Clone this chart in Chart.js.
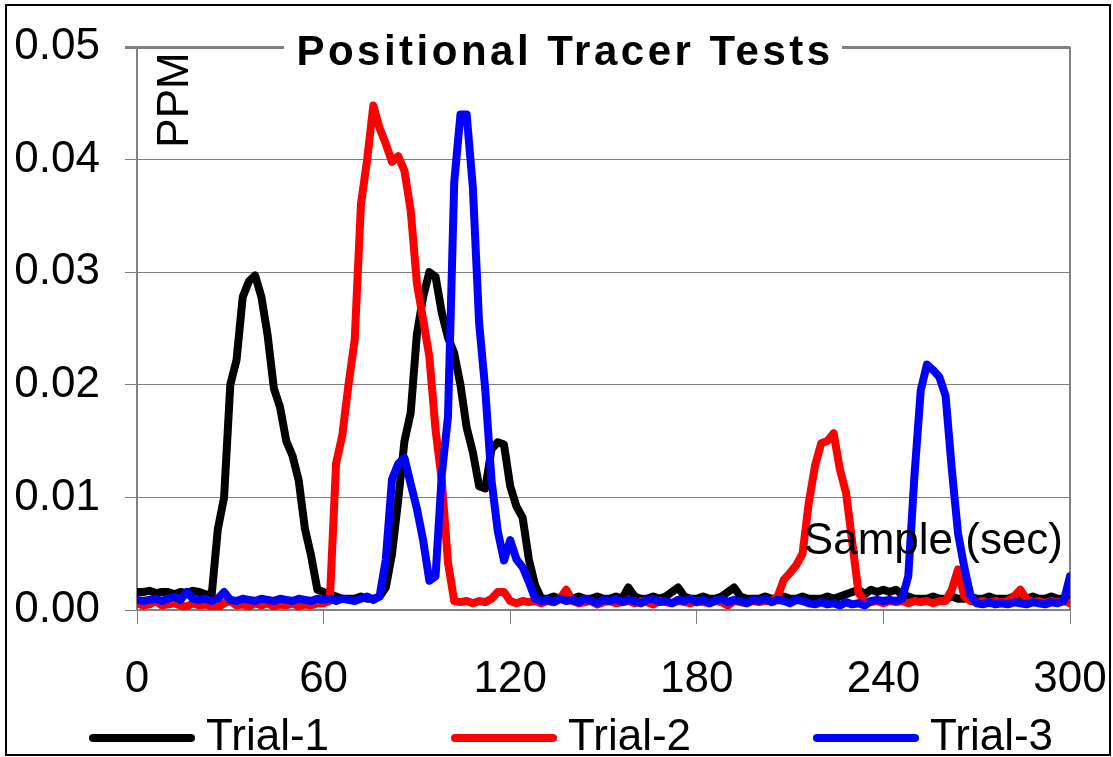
<!DOCTYPE html>
<html>
<head>
<meta charset="utf-8">
<script src="https://cdn.jsdelivr.net/npm/chart.js@4.4.1/dist/chart.umd.min.js"></script>
<style>
	body { margin: 0; background: #fff; }
	canvas { display: block; }
</style>
</head>
<body>
<canvas id="tracer-chart" width="1113" height="757"></canvas>
<script>
// sample time in seconds, one reading every 2 s
var times = [];
for (var t = 0; t <= 300; t += 2) times.push(t);

var seriesNames = ["Trial-1", "Trial-2", "Trial-3"];
var seriesColors = ["#000000", "#ff0000", "#0000ff"];
var xTicks = [0, 60, 120, 180, 240, 300];
var yTicks = [0, 0.01, 0.02, 0.03, 0.04, 0.05];

var trial1 = [
	0.0016,0.0016,0.0017,0.0015,0.0016,0.0016,0.0014,0.0016,0.0015,0.0017,
	0.0016,0.0014,0.0013,0.0072,0.0100,0.0200,0.0222,0.0278,0.0292,0.0297,
	0.0278,0.0244,0.0197,0.0180,0.0150,0.0137,0.0115,0.0072,0.0048,0.0018,
	0.0016,0.0014,0.0012,0.0010,0.0010,0.0010,0.0012,0.0010,0.0010,0.0012,
	0.0020,0.0050,0.0098,0.0150,0.0175,0.0245,0.0278,0.0300,0.0296,0.0264,
	0.0242,0.0228,0.0200,0.0162,0.0140,0.0110,0.0108,0.0143,0.0149,0.0147,
	0.0110,0.0092,0.0082,0.0045,0.0022,0.0010,0.0010,0.0012,0.0010,0.0010,
	0.0010,0.0012,0.0010,0.0010,0.0012,0.0010,0.0010,0.0012,0.0010,0.0020,
	0.0012,0.0010,0.0010,0.0012,0.0010,0.0012,0.0016,0.0020,0.0012,0.0010,
	0.0010,0.0012,0.0010,0.0010,0.0012,0.0016,0.0020,0.0012,0.0010,0.0010,
	0.0010,0.0012,0.0010,0.0010,0.0012,0.0010,0.0010,0.0012,0.0010,0.0010,
	0.0010,0.0012,0.0010,0.0012,0.0014,0.0016,0.0018,0.0014,0.0018,0.0016,
	0.0018,0.0016,0.0018,0.0014,0.0012,0.0010,0.0010,0.0010,0.0012,0.0010,
	0.0010,0.0012,0.0010,0.0010,0.0012,0.0010,0.0010,0.0012,0.0010,0.0010,
	0.0010,0.0012,0.0010,0.0010,0.0012,0.0010,0.0010,0.0012,0.0010,0.0010,
	0.0010
];
var trial2 = [
	0.0006,0.0004,0.0005,0.0008,0.0004,0.0005,0.0006,0.0004,0.0003,0.0006,
	0.0004,0.0005,0.0003,0.0002,0.0006,0.0008,0.0004,0.0005,0.0003,0.0006,
	0.0004,0.0006,0.0003,0.0005,0.0004,0.0006,0.0003,0.0005,0.0004,0.0006,
	0.0006,0.0008,0.0130,0.0155,0.0200,0.0240,0.0360,0.0400,0.0448,0.0428,
	0.0414,0.0398,0.0403,0.0390,0.0355,0.0290,0.0258,0.0225,0.0160,0.0115,
	0.0042,0.0008,0.0007,0.0008,0.0006,0.0008,0.0007,0.0010,0.0016,0.0016,
	0.0008,0.0006,0.0008,0.0007,0.0008,0.0006,0.0008,0.0007,0.0010,0.0018,
	0.0008,0.0006,0.0007,0.0008,0.0005,0.0007,0.0008,0.0006,0.0007,0.0008,
	0.0006,0.0008,0.0007,0.0005,0.0008,0.0007,0.0006,0.0008,0.0007,0.0006,
	0.0008,0.0007,0.0006,0.0008,0.0007,0.0004,0.0008,0.0007,0.0006,0.0008,
	0.0007,0.0008,0.0008,0.0012,0.0027,0.0033,0.0040,0.0050,0.0095,0.0128,
	0.0148,0.0150,0.0157,0.0125,0.0104,0.0060,0.0015,0.0008,0.0007,0.0008,
	0.0006,0.0008,0.0007,0.0008,0.0006,0.0008,0.0007,0.0008,0.0006,0.0008,
	0.0008,0.0018,0.0036,0.0012,0.0008,0.0007,0.0008,0.0006,0.0008,0.0007,
	0.0008,0.0012,0.0018,0.0010,0.0007,0.0008,0.0006,0.0008,0.0007,0.0008,
	0.0006
];
var trial3 = [
	0.0009,0.0008,0.0009,0.0010,0.0008,0.0010,0.0012,0.0009,0.0016,0.0010,
	0.0009,0.0010,0.0008,0.0010,0.0016,0.0009,0.0008,0.0010,0.0009,0.0008,
	0.0010,0.0009,0.0008,0.0010,0.0009,0.0008,0.0010,0.0009,0.0008,0.0010,
	0.0009,0.0010,0.0008,0.0010,0.0009,0.0008,0.0010,0.0012,0.0009,0.0012,
	0.0045,0.0116,0.0130,0.0135,0.0112,0.0090,0.0062,0.0026,0.0030,0.0120,
	0.0172,0.0380,0.0440,0.0440,0.0375,0.0255,0.0195,0.0115,0.0070,0.0044,
	0.0062,0.0045,0.0038,0.0025,0.0010,0.0008,0.0009,0.0007,0.0010,0.0008,
	0.0009,0.0007,0.0010,0.0008,0.0006,0.0009,0.0008,0.0010,0.0007,0.0009,
	0.0008,0.0006,0.0009,0.0010,0.0007,0.0008,0.0006,0.0009,0.0008,0.0010,
	0.0007,0.0009,0.0006,0.0008,0.0010,0.0007,0.0009,0.0008,0.0006,0.0009,
	0.0008,0.0010,0.0007,0.0009,0.0008,0.0006,0.0009,0.0008,0.0006,0.0005,
	0.0007,0.0005,0.0006,0.0004,0.0007,0.0005,0.0006,0.0004,0.0008,0.0009,
	0.0008,0.0009,0.0008,0.0010,0.0030,0.0120,0.0195,0.0218,0.0213,0.0207,
	0.0190,0.0125,0.0068,0.0038,0.0013,0.0006,0.0005,0.0007,0.0005,0.0006,
	0.0005,0.0007,0.0006,0.0005,0.0007,0.0006,0.0005,0.0007,0.0006,0.0008,
	0.0030
];

var values = [trial1, trial2, trial3];
var fontFamily = '"Liberation Sans", Arial, sans-serif';

function points(arr) {
	return times.map(function(t, i) { return {x: t, y: arr[i]}; });
}

var datasets = seriesNames.map(function(name, i) {
	return {
		label: name,
		data: points(values[i]),
		borderColor: seriesColors[i],
		backgroundColor: seriesColors[i],
		borderWidth: 8,
		pointRadius: 0,
		tension: 0,
		borderJoinStyle: "round",
		borderCapStyle: "round",
		order: 3 - i   // blue on top, black underneath
	};
});

// page furniture: frame, title, axis captions and legend
var decor = {
	id: "decor",
	beforeDraw: function(chart) {
		var ctx = chart.ctx;
		ctx.save();
		ctx.fillStyle = "#fff";
		ctx.fillRect(0, 0, chart.width, chart.height);
		ctx.restore();
	},
	beforeDatasetsDraw: function(chart) {
		var ctx = chart.ctx, a = chart.chartArea;
		ctx.save();
		ctx.strokeStyle = "#808080";
		ctx.lineWidth = 2;
		ctx.beginPath();
		ctx.moveTo(a.right, a.top);
		ctx.lineTo(a.right, a.bottom);
		ctx.stroke();
		ctx.restore();
	},
	afterDraw: function(chart) {
		var ctx = chart.ctx;
		ctx.save();

		// outer frame
		ctx.strokeStyle = "#000";
		ctx.lineWidth = 2;
		ctx.strokeRect(6, 5, chart.width - 9, chart.height - 7);

		// title sits on the top grid line
		ctx.fillStyle = "#fff";
		ctx.fillRect(284, 28, 558, 46);
		ctx.fillStyle = "#000";
		ctx.font = "bold 42px " + fontFamily;
		ctx.letterSpacing = "3.5px";
		ctx.textAlign = "center";
		ctx.textBaseline = "middle";
		ctx.fillText("Positional Tracer Tests", 565, 53);
		ctx.letterSpacing = "0px";

		// axis captions inside the plot
		ctx.font = "44px " + fontFamily;
		ctx.textAlign = "right";
		ctx.textBaseline = "middle";
		ctx.fillText("Sample (sec)", 1063, 542);

		ctx.save();
		ctx.translate(176, 100);
		ctx.rotate(-Math.PI / 2);
		ctx.textAlign = "center";
		ctx.fillText("PPM", 0, 0);
		ctx.restore();

		// legend
		var ly = 738;
		chart.data.datasets.forEach(function(ds, i) {
			var lx = 89 + i * 362;
			ctx.strokeStyle = ds.borderColor;
			ctx.lineWidth = 8;
			ctx.lineCap = "round";
			ctx.beginPath();
			ctx.moveTo(lx + 4, ly);
			ctx.lineTo(lx + 102, ly);
			ctx.stroke();
			ctx.fillStyle = "#000";
			ctx.textAlign = "left";
			ctx.fillText(ds.label, lx + 117, ly);
		});
		ctx.restore();
	}
};

var ctx1 = document.getElementById("tracer-chart");
var chart1 = new Chart(ctx1, {
	type: "line",
	data: { datasets: datasets },
	plugins: [decor],
	options: {
		responsive: false,
		animation: false,
		devicePixelRatio: 1,
		layout: { padding: { left: 0, right: 43, top: 47, bottom: 0 } },
		plugins: {
			legend: { display: false },
			title: { display: false },
			tooltip: { enabled: false }
		},
		scales: {
			x: {
				type: "linear",
				min: xTicks[0],
				max: xTicks[xTicks.length - 1],
				afterBuildTicks: function(scale) {
					scale.ticks = xTicks.map(function(v) { return {value: v}; });
				},
				afterFit: function(scale) {
					scale.height = 147;
					scale.paddingLeft = 0;
					scale.paddingRight = 0;
				},
				grid: {
					drawOnChartArea: false,
					drawTicks: true,
					tickLength: 14,
					color: "#808080",
					lineWidth: 1
				},
				border: { color: "#808080", width: 2 },
				ticks: {
					color: "#000",
					padding: 29,
					maxRotation: 0,
					font: { family: fontFamily, size: 44 }
				}
			},
			y: {
				min: yTicks[0],
				max: yTicks[yTicks.length - 1],
				afterBuildTicks: function(scale) {
					scale.ticks = yTicks.map(function(v) { return {value: v}; });
				},
				afterFit: function(scale) {
					scale.width = 137;
					scale.paddingTop = 0;
					scale.paddingBottom = 0;
				},
				grid: {
					color: "#808080",
					lineWidth: function(c) { return c.index === yTicks.length - 1 ? 3 : 1; },
					drawTicks: true,
					tickLength: 12
				},
				border: { color: "#808080", width: 2 },
				ticks: {
					color: "#000",
					padding: 25,
					font: { family: fontFamily, size: 44 },
					callback: function(v) { return Number(v).toFixed(2); }
				}
			}
		}
	}
});
</script>
</body>
</html>
